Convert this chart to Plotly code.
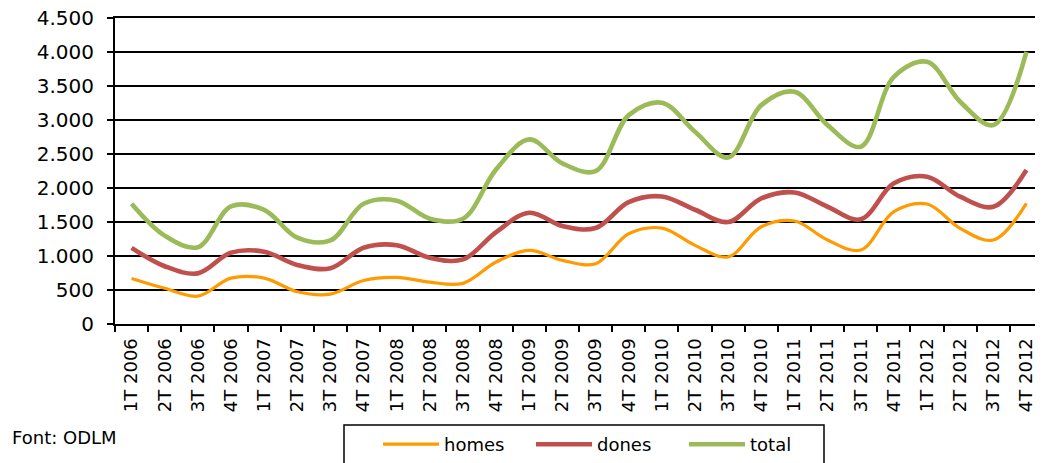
import plotly.graph_objects as go

quarters = ["1T 2006", "2T 2006", "3T 2006", "4T 2006",
            "1T 2007", "2T 2007", "3T 2007", "4T 2007",
            "1T 2008", "2T 2008", "3T 2008", "4T 2008",
            "1T 2009", "2T 2009", "3T 2009", "4T 2009",
            "1T 2010", "2T 2010", "3T 2010", "4T 2010",
            "1T 2011", "2T 2011", "3T 2011", "4T 2011",
            "1T 2012", "2T 2012", "3T 2012", "4T 2012"]

homes = [670, 525, 410, 675, 675, 475, 440, 640, 685, 615,
         598, 912, 1083, 936, 887, 1328, 1411, 1157, 988, 1431,
         1515, 1235, 1088, 1652, 1765, 1407, 1235, 1775]

dones = [1120, 850, 745, 1050, 1064, 868, 820, 1122, 1160, 975,
         950, 1353, 1637, 1441, 1412, 1794, 1877, 1681, 1500, 1848,
         1936, 1725, 1540, 2069, 2167, 1873, 1725, 2265]

total = [1770, 1300, 1130, 1730, 1680, 1270, 1230, 1770, 1815, 1550,
         1549, 2275, 2716, 2363, 2250, 3073, 3255, 2828, 2450, 3220,
         3417, 2926, 2608, 3637, 3858, 3270, 2926, 4005]

y_ticks = [0, 500, 1000, 1500, 2000, 2500, 3000, 3500, 4000, 4500]

series = [("homes", homes, "#FF9A00", 3.2),
          ("dones", dones, "#C0504D", 4.6),
          ("total", total, "#9BBB59", 4.6)]

fig = go.Figure()
for name, vals, color, w in series:
    fig.add_trace(go.Scatter(
        x=quarters, y=vals, name=name, mode="lines",
        line=dict(color=color, width=w, shape="spline", smoothing=1.0),
    ))

# page body has an 8px default margin, so the figure is 8px smaller
PW, PH = 928.0, 306.0  # plot area size in px


def px_x(x):  # screenshot x -> paper x
    return (x - 115) / PW


def px_y(y):  # screenshot y -> paper y
    return (324 - y) / PH


FONT = "DejaVu Sans"
fig.update_layout(
    width=1035, height=455,
    margin=dict(l=107, r=0, t=10, b=139, autoexpand=False),
    paper_bgcolor="white", plot_bgcolor="white",
    separators=",.",
    font=dict(family=FONT, color="black", size=18),
    showlegend=True,
    legend=dict(
        orientation="h", x=px_x(378), xanchor="left",
        y=px_y(426), yanchor="top",
        borderwidth=0, bgcolor="rgba(0,0,0,0)",
        font=dict(family=FONT, size=18, color="black"),
        entrywidth=82, entrywidthmode="pixels",
        itemwidth=56,
    ),
    xaxis=dict(
        type="category", showgrid=False, showline=True, linecolor="black",
        linewidth=2, mirror=True, ticks="outside", tickson="boundaries",
        ticklen=6, tickcolor="black", tickwidth=1.5, tickangle=-90,
        tickfont=dict(family=FONT, size=18, color="black"),
        range=[-0.5, len(quarters) - 0.5], fixedrange=True,
        automargin=True, ticklabelposition="outside", ticklabelstandoff=5,
        ticklabeloverflow="allow",
    ),
    yaxis=dict(
        range=[0, 4502], tickvals=y_ticks, tickformat=",d",
        ticksuffix="\u2009\u2009",
        showgrid=True, gridcolor="black", gridwidth=1.5,
        showline=True, linecolor="black", linewidth=2,
        ticks="outside", ticklen=6, tickcolor="black", tickwidth=1.5,
        tickfont=dict(family=FONT, size=20, color="black"),
        zeroline=False, ticklabelposition="outside", ticklabelstandoff=9,
        ticklabeloverflow="allow", automargin=True,
    ),
    shapes=[dict(
        type="rect", xref="paper", yref="paper",
        x0=px_x(344), x1=px_x(824), y0=px_y(480), y1=px_y(425),
        line=dict(color="black", width=1.5), fillcolor="rgba(0,0,0,0)",
        layer="below",
    )],
    annotations=[dict(
        text="Font: ODLM", xref="paper", yref="paper",
        x=px_x(10), y=px_y(437), xanchor="left", yanchor="middle",
        showarrow=False, font=dict(family=FONT, size=18, color="black"),
    )],
)

fig.write_html("out.html")
